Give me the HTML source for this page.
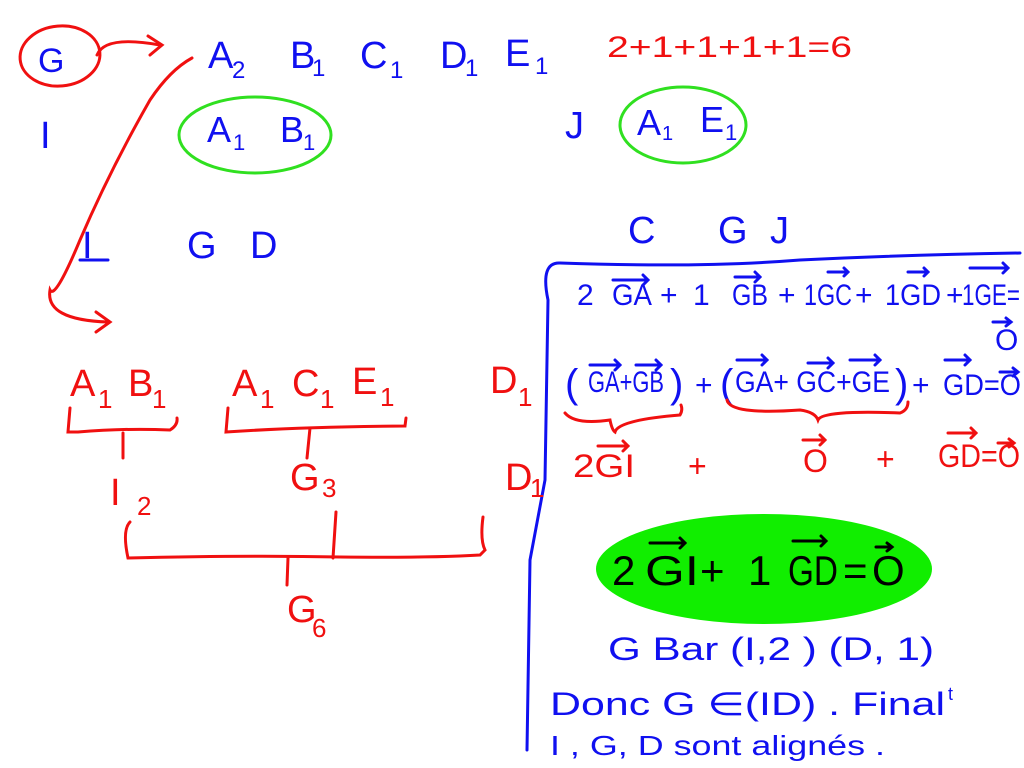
<!DOCTYPE html>
<html><head><meta charset="utf-8"><style>
html,body{margin:0;padding:0;background:#fff;width:1024px;height:768px;overflow:hidden}
svg{display:block}
text{font-family:"Liberation Sans",sans-serif}
.b{fill:#1010f0}.r{fill:#f01010}.k{fill:#000}
.bl{stroke:#1010f0;fill:none;stroke-width:3;stroke-linecap:round}
.rl{stroke:#f01010;fill:none;stroke-width:3;stroke-linecap:round}
.kl{stroke:#000;fill:none;stroke-width:3;stroke-linecap:round}
</style></head><body>
<svg width="1024" height="768" viewBox="0 0 1024 768" xmlns="http://www.w3.org/2000/svg">
<!-- top -->
<ellipse cx="60" cy="56" rx="40" ry="30" class="rl" transform="rotate(-5 60 56)"/>
<text x="38" y="72" font-size="34" class="b">G</text>
<path d="M97 55 Q105 35 160 45" class="rl"/><path d="M148 36 L162 45 L150 55" class="rl"/>
<g class="b" font-size="38">
<text x="208" y="68">A</text><text x="232" y="78" font-size="24">2</text>
<text x="290" y="68">B</text><text x="312" y="76" font-size="24">1</text>
<text x="360" y="68">C</text><text x="390" y="78" font-size="24">1</text>
<text x="440" y="68">D</text><text x="465" y="76" font-size="24">1</text>
<text x="505" y="66">E</text><text x="535" y="74" font-size="24">1</text>
<text x="40" y="148">I</text>
<text x="565" y="138">J</text>
<text x="82" y="258">I</text>
<text x="187" y="258">G</text>
<text x="250" y="258">D</text>
<text x="628" y="243">C</text>
<text x="718" y="243">G</text>
<text x="770" y="243">J</text>
</g>
<text x="607" y="57" font-size="30" class="r" textLength="245" lengthAdjust="spacingAndGlyphs">2+1+1+1+1=6</text>
<ellipse cx="255" cy="135" rx="76" ry="38" fill="none" stroke="#30e020" stroke-width="3"/>
<text x="207" y="142" font-size="36" class="b">A</text><text x="233" y="150" font-size="22" class="b">1</text>
<text x="280" y="142" font-size="36" class="b">B</text><text x="303" y="150" font-size="22" class="b">1</text>
<ellipse cx="683" cy="125" rx="63" ry="38" fill="none" stroke="#30e020" stroke-width="3"/>
<text x="637" y="135" font-size="36" class="b">A</text><text x="662" y="140" font-size="20" class="b">1</text>
<text x="700" y="132" font-size="36" class="b">E</text><text x="725" y="140" font-size="22" class="b">1</text>
<line x1="80" y1="260" x2="108" y2="260" class="bl"/>
<path d="M192 58 Q170 70 150 100 Q110 170 80 240 Q55 300 50 290 Q45 320 108 322" class="rl"/>
<path d="M96 312 L110 322 L96 332" class="rl"/>
<!-- box -->
<path d="M527 750 L530 560 L545 480 L548 300 Q540 262 560 263 Q700 268 800 260 Q900 255 1020 253" class="bl"/>
<!-- eq1 -->
<g class="b" font-size="30">
<text x="577" y="305">2</text>
<text x="612" y="305" textLength="40" lengthAdjust="spacingAndGlyphs">GA</text>
<text x="660" y="305">+</text><text x="693" y="305">1</text>
<text x="732" y="305" textLength="36" lengthAdjust="spacingAndGlyphs">GB</text>
<text x="778" y="305">+</text>
<text x="804" y="305" textLength="48" lengthAdjust="spacingAndGlyphs">1GC</text>
<text x="855" y="305">+</text>
<text x="885" y="305" textLength="56" lengthAdjust="spacingAndGlyphs">1GD</text>
<text x="946" y="305">+</text>
<text x="962" y="305" textLength="58" lengthAdjust="spacingAndGlyphs">1GE=</text>
<text x="995" y="350">O</text>
<text x="565" y="397" font-size="40">(</text>
<text x="588" y="392" textLength="76" lengthAdjust="spacingAndGlyphs">GA+GB</text>
<text x="670" y="397" font-size="40">)</text>
<text x="695" y="395">+</text>
<text x="720" y="397" font-size="40">(</text>
<text x="735" y="392" textLength="155" lengthAdjust="spacingAndGlyphs">GA+ GC+GE</text>
<text x="895" y="397" font-size="40">)</text>
<text x="912" y="395">+</text>
<text x="943" y="395" textLength="78" lengthAdjust="spacingAndGlyphs">GD=O</text>
</g>
<g class="bl" stroke-width="2.5">
<path d="M613 280h35M643 275l5 5-5 5"/><path d="M735 277h25M755 272l5 5-5 5"/><path d="M828 272h20M844 268l4 4-4 4"/><path d="M908 272h20M924 268l4 4-4 4"/><path d="M970 268h38M1003 263l5 5-5 5"/>
<path d="M993 322h18M1006 318l5 4-5 4"/>
<path d="M590 365h30M615 360l5 5-5 5"/><path d="M636 365h25M656 360l5 5-5 5"/>
<path d="M737 360h30M762 355l5 5-5 5"/><path d="M808 363h25M828 358l5 5-5 5"/><path d="M850 360h30M875 355l5 5-5 5"/>
<path d="M945 360h25M965 355l5 5-5 5"/><path d="M1000 372h18M1013 368l5 4-5 4"/>
</g>
<!-- red under-braces -->
<path d="M565 413 Q575 425 610 420 Q612 430 615 432 Q618 420 680 415 Q683 410 681 405" class="rl"/>
<path d="M727 400 Q730 415 800 410 Q815 412 818 420 Q822 410 900 413 Q908 410 908 402" class="rl"/>
<g class="r" font-size="32">
<text x="573" y="477" textLength="62" lengthAdjust="spacingAndGlyphs">2GI</text>
<text x="688" y="477">+</text>
<text x="803" y="472">O</text>
<text x="876" y="470">+</text>
<text x="938" y="467" textLength="82" lengthAdjust="spacingAndGlyphs">GD=O</text>
</g>
<g class="rl" stroke-width="2.5"><path d="M598 446h30M623 441l5 5-5 5"/><path d="M803 440h22M820 435l5 5-5 5"/><path d="M948 433h28M971 428l5 5-5 5"/><path d="M998 443h16M1009 439l5 4-5 4"/></g>
<!-- tree -->
<g class="r" font-size="38">
<text x="70" y="396">A</text><text x="98" y="408" font-size="26">1</text>
<text x="128" y="396">B</text><text x="152" y="408" font-size="26">1</text>
<text x="232" y="396">A</text><text x="260" y="408" font-size="26">1</text>
<text x="292" y="396">C</text><text x="320" y="408" font-size="26">1</text>
<text x="352" y="394">E</text><text x="380" y="406" font-size="26">1</text>
<text x="490" y="393">D</text><text x="518" y="406" font-size="26">1</text>
<text x="110" y="505">I</text><text x="137" y="515" font-size="26">2</text>
<text x="290" y="490">G</text><text x="322" y="497" font-size="26">3</text>
<text x="505" y="490">D</text><text x="530" y="497" font-size="26">1</text>
<text x="287" y="622">G</text><text x="312" y="637" font-size="26">6</text>
</g>
<path d="M70 408 L68 432 L78 432 Q125 428 170 430 Q178 425 177 418" class="rl"/>
<line x1="123" y1="433" x2="123" y2="458" class="rl"/>
<path d="M228 408 L226 432 Q300 427 405 426 L406 418" class="rl"/>
<path d="M310 428 L307 458" class="rl"/>
<path d="M130 522 Q122 530 128 558 Q250 555 340 557 Q430 558 480 555 L485 550 Q480 540 483 517" class="rl"/>
<path d="M336 512 L333 558" class="rl"/>
<path d="M288 558 L287 585" class="rl"/>
<!-- green -->
<ellipse cx="764" cy="569" rx="168" ry="55" fill="#11ee00"/>
<g class="k" font-size="42">
<text x="612" y="585">2</text>
<text x="645" y="585" textLength="54" lengthAdjust="spacingAndGlyphs">GI</text>
<text x="700" y="585">+</text>
<text x="748" y="585">1</text>
<text x="788" y="585" textLength="50" lengthAdjust="spacingAndGlyphs">GD</text>
<text x="843" y="585">=</text>
<text x="872" y="585">O</text>
</g>
<g class="kl"><path d="M650 543h35M680 538l5 5-5 5"/><path d="M793 541h33M821 536l5 5-5 5"/><path d="M876 547h16M887 543l5 4-5 4"/></g>
<!-- bottom -->
<g class="b" font-size="32">
<text x="608" y="660" textLength="326" lengthAdjust="spacingAndGlyphs">G   Bar  (I,2 ) (D, 1)</text>
<text x="550" y="715" textLength="395" lengthAdjust="spacingAndGlyphs">Donc   G ∈(ID) . Final</text>
<text x="948" y="700" font-size="18">t</text>
<text x="550" y="755" font-size="28" textLength="335" lengthAdjust="spacingAndGlyphs">I , G, D  sont  alignés .</text>
</g>
</svg>
</body></html>
